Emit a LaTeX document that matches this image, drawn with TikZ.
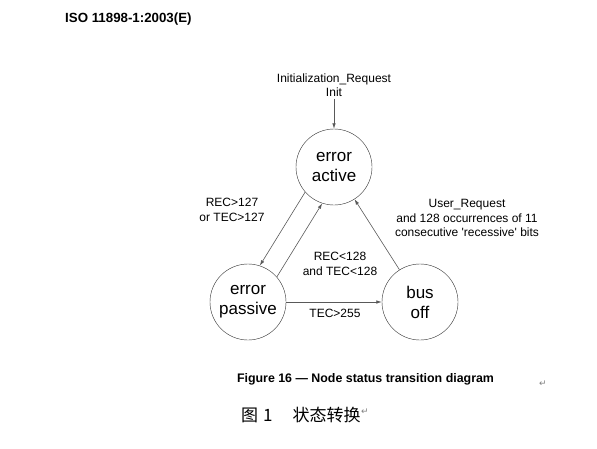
\documentclass[tikz,border=0pt]{standalone}
\usepackage{fontspec}
\setmainfont{Liberation Sans}
\newfontfamily\cjk{Noto Sans CJK SC}
\newfontfamily\symb{DejaVu Sans}
\usetikzlibrary{arrows.meta}

\begin{document}
\begin{tikzpicture}[x=1pt,y=-1pt,
  state/.style={circle,draw=black!80,thin,minimum size=76pt,inner sep=0pt,align=center,
    font=\fontsize{17}{20}\selectfont},
  lbl/.style={align=center,inner sep=2pt,font=\fontsize{12}{14.5}\selectfont},
  retmark/.style={font=\symb\fontsize{9}{9}\selectfont,text=gray,inner sep=0pt},
  trans/.style={draw=black!65,line width=0.6pt,-{Latex[length=5.5pt,width=3.5pt]}}]
\useasboundingbox (0,0) rectangle (597,448);
\node[anchor=west,inner sep=0pt,font=\bfseries\fontsize{13.3}{15}\selectfont] (hdr) at (65,19.5) {ISO 11898-1:2003(E)};
% states
\node[state] (act) at (334,167) {error\\active};
\node[state] (pas) at (248,302) {error\\passive};
\node[state] (bus) at (420,302) {bus\\off};
% labels
\node[lbl] (init) at (334,85) {Initialization\_Request\\Init};
\node[lbl] (down) at (232,210) {REC>127\\or TEC>127};
\node[lbl] (up) at (340,264) {REC<128\\and TEC<128};
\node[lbl] (off) at (335,313) {TEC>255};
\node[lbl] (user) at (467,218) {User\_Request\\and 128 occurrences of 11\\consecutive \textquotesingle recessive\textquotesingle\ bits};
% transitions
\draw[trans] (init) -- (act);
\draw[trans] (act.221.6) -- (pas.72.2);
\draw[trans] (pas.41.6) -- (act.252.2);
\draw[trans] (bus) -- (act);
\draw[trans] (pas) -- (bus);
% captions
\node[font=\bfseries\fontsize{12.4}{14}\selectfont] (cap) at (365.5,379) {Figure 16 — Node status transition diagram};
\node[retmark] (ret1) at (543,384) {↵};
\node[anchor=west,inner sep=0pt,font=\cjk\fontsize{17}{19}\selectfont] (zh) at (241,415) {图\hspace{5pt}1\hspace{20pt}状态转换};
\node[retmark,anchor=west] (ret2) at ([yshift=3pt]zh.east) {↵};
\end{tikzpicture}
\end{document}
